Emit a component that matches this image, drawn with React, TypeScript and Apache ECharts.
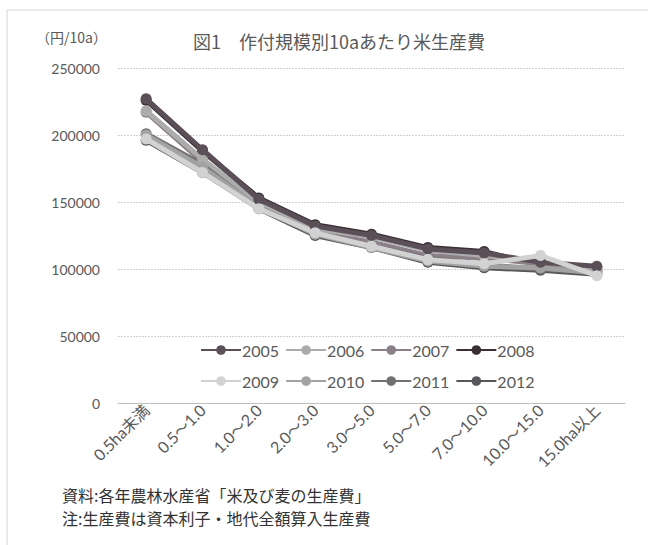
import React, { useEffect, useRef } from "react";
import * as echarts from "echarts";

const categories = ["0.5ha未満", "0.5～1.0", "1.0～2.0", "2.0～3.0", "3.0～5.0", "5.0～7.0", "7.0～10.0", "10.0～15.0", "15.0ha以上"];
const years = ["2005", "2006", "2007", "2008", "2009", "2010", "2011", "2012"];
const v2005 = [227000, 189000, 152000, 132000, 125000, 115000, 112000, 105000, 102000];
const v2006 = [218000, 182000, 150000, 130000, 124000, 114000, 110000, 106000, 100000];
const v2007 = [217000, 180000, 148000, 128000, 120000, 110000, 108000, 104000, 99000];
const v2008 = [226000, 188000, 153000, 133000, 126000, 116000, 113000, 103000, 101000];
const v2009 = [197000, 172000, 145000, 127000, 117000, 107000, 104000, 110000, 95000];
const v2010 = [200000, 176000, 146000, 126000, 116000, 106000, 102000, 101000, 97000];
const v2011 = [201000, 178000, 147000, 127000, 117000, 108000, 103000, 100000, 98000];
const v2012 = [196000, 172000, 145000, 125000, 116000, 105000, 101000, 99000, 96000];
const seriesValues = [v2005, v2006, v2007, v2008, v2009, v2010, v2011, v2012];
const colors = ["#5b5057", "#acacac", "#8c8088", "#3a3034", "#d2d2d2", "#a2a2a2", "#737073", "#58565a"];

const FONT = "Lato, 'Noto Sans CJK JP', sans-serif";
const JFONT = "'Noto Sans CJK JP', sans-serif";

export default function App() {
  const ref = useRef<HTMLDivElement>(null);
  useEffect(() => {
    const chart = echarts.init(ref.current!, null, { renderer: "svg" });
    chart.setOption({
      animation: false,
      backgroundColor: "#ffffff",
      graphic: [
        { type: "rect", shape: { x: 7, y: 10, width: 700, height: 600 }, style: { fill: "none", stroke: "#d4d4d4", lineWidth: 1 } },
        { type: "text", left: 36, top: 30, style: { text: "（円/10a）", font: `14px ${JFONT}`, fill: "#595959" } },
        { type: "text", left: 62, top: 487, style: { text: "資料:各年農林水産省「米及び麦の生産費」", font: `16px ${JFONT}`, fill: "#333333" } },
        { type: "text", left: 62, top: 510, style: { text: "注:生産費は資本利子・地代全額算入生産費", font: `16px ${JFONT}`, fill: "#333333" } },
      ],
      title: {
        text: "図1　作付規模別10aあたり米生産費",
        left: 188,
        top: 27,
        textStyle: { fontFamily: JFONT, fontSize: 18, fontWeight: "normal", color: "#595959" },
      },
      legend: [
        {
          data: years.slice(0, 4),
          left: 195,
          top: 337,
          itemWidth: 40,
          itemHeight: 12,
          itemGap: 6,
          textStyle: { fontFamily: FONT, fontSize: 16, color: "#595959", padding: [0, 0, 0, -4] },
        },
        {
          data: years.slice(4),
          left: 195,
          top: 368,
          itemWidth: 40,
          itemHeight: 12,
          itemGap: 6,
          textStyle: { fontFamily: FONT, fontSize: 16, color: "#595959", padding: [0, 0, 0, -4] },
        },
      ],
      grid: { left: 118, right: 23, top: 68, bottom: 142 },
      xAxis: {
        type: "category",
        data: categories,
        boundaryGap: true,
        axisLine: { lineStyle: { color: "#bfbfbf" } },
        axisTick: { show: false },
        axisLabel: { rotate: 45, interval: 0, fontFamily: FONT, fontSize: 16, color: "#595959", margin: 4 },
      },
      yAxis: {
        type: "value",
        min: 0,
        max: 250000,
        interval: 50000,
        axisLine: { show: false },
        axisTick: { show: false },
        splitLine: { lineStyle: { color: "#d0d0d0", type: [2, 1] } },
        axisLabel: { fontFamily: FONT, fontSize: 14, color: "#595959", margin: 18, formatter: (v: number) => String(v) },
      },
      series: years.map((y, i) => ({
        name: y,
        type: "line",
        data: seriesValues[i],
        color: colors[i],
        symbol: "circle",
        symbolSize: 11,
        lineStyle: { width: 5, color: colors[i] },
        itemStyle: { color: colors[i] },
        z: 10 - (i % 4),
      })),
    });
    return () => chart.dispose();
  }, []);
  return <div ref={ref} style={{ position: "fixed", left: 0, top: 0, width: 648, height: 545 }} />;
}
